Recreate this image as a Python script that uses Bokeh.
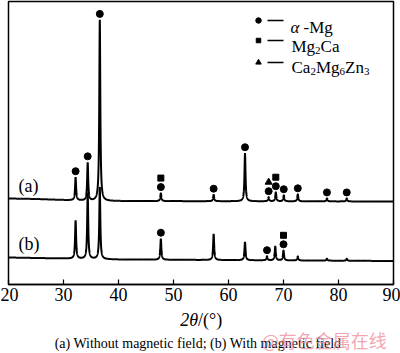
import numpy as np
from bokeh.plotting import figure
from bokeh.layouts import column
from bokeh.models import Label, Range1d, FixedTicker
from bokeh.core.properties import value
from bokeh.embed import file_html
from bokeh.resources import INLINE

# ---------------- data ----------------
two_theta_a = [32.2, 34.4, 36.6, 47.7, 57.3, 63.0, 67.3, 68.6, 70.05, 72.6, 77.9, 81.5]
intensity_a = [23, 38, 181, 8, 6.5, 48, 4, 9, 6, 7, 3, 3]
phases_a = ["M", "M", "M", "MC", "M", "M", "MT", "MC", "M", "M", "M", "M"]
bg_angles_a = [20, 25, 35, 90]
bg_values_a = [86, 85.5, 83.5, 83]

two_theta_b = [32.2, 34.4, 36.6, 47.7, 57.3, 63.0, 67.0, 68.5, 70.0, 72.6, 77.9, 81.5]
intensity_b = [38, 66, 72, 21, 26, 18, 4, 14, 10, 4, 2, 2]
phases_b = ["", "", "", "M", "", "", "M", "", "MC", "", "", ""]
bg_angles_b = [20, 40, 90]
bg_values_b = [27, 25, 23.5]

x_ticks = [20, 30, 40, 50, 60, 70, 80, 90]
phase_names = {"M": "α-Mg", "C": "Mg2Ca", "T": "Ca2Mg6Zn3"}
phase_marker = {"M": "circle", "C": "square", "T": "triangle"}
phase_size = {"M": 7, "C": 6, "T": 7}

# ---------------- layout ----------------
W, H = 400, 353
PH = 308                                  # height of the chart figure
FL, FR, FT, FB = 8, 393, 1, 284          # frame edges in pixels
XMIN, XMAX = 20, 90
SERIF = "Liberation Serif"


def px2x(px):
    return XMIN + (px - FL) * (XMAX - XMIN) / (FR - FL)


def py2y(py):
    return FB - py


p = figure(width=W, height=PH, output_backend="svg", toolbar_location=None,
           x_range=Range1d(XMIN, XMAX), y_range=Range1d(0, FB - FT),
           min_border_left=FL, min_border_right=W - FR,
           min_border_top=FT, min_border_bottom=PH - FB)
p.background_fill_color = "white"
p.border_fill_color = "white"
p.grid.visible = False
p.yaxis.visible = False
p.outline_line_color = "black"
p.outline_line_width = 1.5

ax = p.xaxis[0]
ax.ticker = FixedTicker(ticks=x_ticks)
ax.major_tick_in = 5
ax.major_tick_out = 0
ax.minor_tick_in = 0
ax.minor_tick_out = 0
ax.axis_line_width = 1.5
ax.major_tick_line_width = 1.2
ax.major_label_standoff = 3
ax.major_label_text_font = SERIF
ax.major_label_text_font_size = "18px"
ax.major_label_text_color = "black"

# ---------------- curves ----------------
x = np.arange(XMIN, XMAX + 0.001, 0.01)
gamma = 0.11


def profile(angles, heights, bg_x, bg_y):
    y = np.interp(x, bg_x, bg_y)
    for a, h in zip(angles, heights):
        y = y + h * gamma ** 2 / ((x - a) ** 2 + gamma ** 2)
    return y


ya = profile(two_theta_a, intensity_a, bg_angles_a, bg_values_a)
yb = profile(two_theta_b, intensity_b, bg_angles_b, bg_values_b)
p.line(x, ya, line_color="black", line_width=2)
p.line(x, yb, line_color="black", line_width=2)

# ---------------- phase markers ----------------
GAP, STEP = 6, 9
for angles, phases, curve in ((two_theta_a, phases_a, ya), (two_theta_b, phases_b, yb)):
    for a, ph in zip(angles, phases):
        top = float(np.interp(a, x, curve))
        for k, code in enumerate(ph):
            p.scatter([a], [top + GAP + STEP * k], marker=phase_marker[code],
                      size=phase_size[code], color="black")

# ---------------- text helpers ----------------
ADV = {"M": .889, "g": .5, "C": .667, "a": .444, "Z": .611, "n": .5, "α": .52,
       " ": .25, "-": .333}


def adv(s, size):
    return sum(ADV.get(c, .5) for c in s) * size


def put(text, px, py, size, italic=False, align="left", baseline="alphabetic",
        font=SERIF, color="black", alpha=1.0):
    p.add_layout(Label(x=px2x(px), y=py2y(py), text=text, text_font=font,
                       text_font_size=f"{size}px", text_align=align,
                       text_baseline=baseline, text_color=color, text_alpha=alpha,
                       text_font_style="italic" if italic else "normal"))


def chem(name, px, py, size):
    sub = round(size * 0.65)
    cur = px
    for c in name:
        if c.isdigit():
            put(c, cur, py + size * 0.22, sub)
            cur += adv(c, sub)
        else:
            put(c, cur, py, size)
            cur += adv(c, size)


# ---------------- legend ----------------
LS = 17
leg_rows = [("M", 20, 27), ("C", 40, 46), ("T", 62, 67)]
for code, my, ty in leg_rows:
    p.scatter([px2x(258)], [py2y(my)], marker=phase_marker[code],
              size=phase_size[code] - 1.5, color="black")
    p.line([px2x(267), px2x(283)], [py2y(my), py2y(my)], line_color="black", line_width=1.3)
    if code == "M":
        put("α", 290, ty, LS, italic=True)
        put("-Mg", 303, ty, LS)
    else:
        chem(phase_names[code], 291, ty, LS)

put("(a)", 18, 185, 18, baseline="middle")
put("(b)", 18, 243, 18, baseline="middle")

# ---------------- bottom text strip ----------------
QH = H - PH
q = figure(width=W, height=QH, output_backend="svg", toolbar_location=None,
           x_range=Range1d(0, W), y_range=Range1d(0, QH),
           min_border=0)
q.axis.visible = False
q.grid.visible = False
q.outline_line_color = None
q.background_fill_color = "white"
q.border_fill_color = "white"


def qtext(text, px, py, size, italic=False, align="left", font=SERIF,
          color="black", alpha=1.0):
    q.text(x=[px], y=[H - py], text=[text], text_font=value(font),
           text_font_size=value(f"{size}px"), text_align=align,
           text_baseline="middle", text_color=color, text_alpha=alpha,
           text_font_style="italic" if italic else "normal")


qtext("2θ", 197, 319, 18, italic=True, align="right")
qtext("/(°)", 197, 319, 18)
qtext("(a) Without magnetic field; (b) With magnetic field", 197, 343, 14, align="center")
qtext("@有色金属在线", 263, 339, 18, font="Noto Sans CJK SC", color="#ee8898", alpha=0.75)

open("out.html", "w").write(file_html(column(p, q, spacing=0), INLINE))
